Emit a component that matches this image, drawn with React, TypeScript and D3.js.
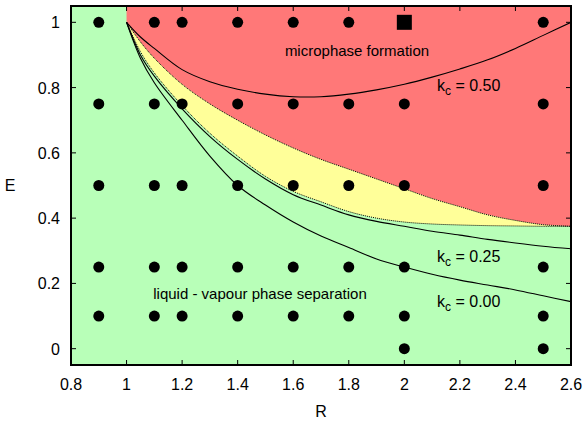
import React, {useMemo} from "react";
import * as d3 from "d3";

// sampled R values for the boundary curves
const rGrid = [1.0, 1.05, 1.1, 1.2, 1.3, 1.4, 1.5, 1.6, 1.7, 1.8, 1.9, 2.0, 2.1, 2.2, 2.3, 2.4, 2.5, 2.6];

// red / yellow boundary (dotted)
const microEdge = [1.0, 0.94, 0.89, 0.81, 0.75, 0.7, 0.655, 0.615, 0.58, 0.55, 0.52, 0.49, 0.46, 0.435, 0.41, 0.393, 0.38, 0.375];
// yellow / green boundary (dotted)
const lvEdge = [1.0, 0.91, 0.845, 0.745, 0.66, 0.59, 0.528, 0.482, 0.45, 0.42, 0.4, 0.388, 0.382, 0.379, 0.377, 0.376, 0.375, 0.375];

// solid curves
const kc050 = [1.0, 0.955, 0.92, 0.855, 0.818, 0.795, 0.78, 0.772, 0.772, 0.78, 0.793, 0.81, 0.832, 0.857, 0.885, 0.92, 0.96, 1.0];
const kc025 = [1.0, 0.9, 0.835, 0.735, 0.65, 0.58, 0.52, 0.472, 0.44, 0.41, 0.39, 0.375, 0.36, 0.348, 0.335, 0.324, 0.314, 0.306];
const kc000 = [1.0, 0.89, 0.815, 0.7, 0.59, 0.5, 0.44, 0.388, 0.345, 0.31, 0.275, 0.25, 0.228, 0.21, 0.195, 0.18, 0.162, 0.144];

// simulation points
const pointR = [0.9, 1.1, 1.2, 1.4, 1.6, 1.8, 2.0, 2.5];
const pointE = [
    [1, 0.75, 0.5, 0.25, 0.1],
    [1, 0.75, 0.5, 0.25, 0.1],
    [1, 0.75, 0.5, 0.25, 0.1],
    [1, 0.75, 0.5, 0.25, 0.1],
    [1, 0.75, 0.5, 0.25, 0.1],
    [1, 0.75, 0.5, 0.25, 0.1],
    [0.75, 0.5, 0.25, 0.1, 0],
    [1, 0.75, 0.5, 0.25, 0.1, 0],
];
const squarePoints = [{r: 2.0, e: 1.0}];

const xTicks = [0.8, 1, 1.2, 1.4, 1.6, 1.8, 2, 2.2, 2.4, 2.6];
const yTicks = [0, 0.2, 0.4, 0.6, 0.8, 1];

const width = 586;
const height = 423;
const left = 71, right = 571, top = 6, bottom = 365;
const font = "Liberation Sans, Arial, sans-serif";

const App = () => {
    const x = useMemo(() => d3.scaleLinear().domain([0.8, 2.6]).range([left, right]), []);
    const y = useMemo(() => d3.scaleLinear().domain([-0.05, 1.05]).range([bottom, top]), []);

    const line = d3.line<[number, number]>()
        .x((d) => x(d[0]))
        .y((d) => y(d[1]))
        .curve(d3.curveCatmullRom);

    const pts = (vals: number[]) => rGrid.map((r, i) => [r, vals[i]] as [number, number]);

    // red region: top strip plus everything above microEdge
    const redArea = "M" + x(1) + "," + y(1.05) + "L" + x(2.6) + "," + y(1.05) + "L" + x(2.6) + "," + y(0.375)
        + "L" + (line(pts(microEdge).slice().reverse()) as string).slice(1) + "Z";
    const yellowArea = (line(pts(microEdge)) as string)
        + "L" + (line(pts(lvEdge).slice().reverse()) as string).slice(1) + "Z";

    const dots: {r: number, e: number}[] = [];
    pointR.forEach((r, i) => pointE[i].forEach((e) => dots.push({r, e})));

    return (
        <svg width={width} height={height} style={{position: "absolute", left: 0, top: 0, background: "#fff"}} fontFamily={font}>
            <defs>
                <clipPath id="plot">
                    <rect x={left} y={top} width={right - left} height={bottom - top} />
                </clipPath>
            </defs>
            <g clipPath="url(#plot)">
                <rect x={left} y={top} width={right - left} height={bottom - top} fill="#b8ffb8" />
                <path d={redArea} fill="#ff7878" />
                <path d={yellowArea} fill="#ffff99" />
                <path d={line(pts(microEdge)) as string} fill="none" stroke="#000" strokeWidth={1} strokeDasharray="1,1" />
                <path d={line(pts(lvEdge)) as string} fill="none" stroke="#000" strokeWidth={1} strokeDasharray="1,1" />
                {[kc050, kc025, kc000].map((c, i) => (
                    <path key={i} d={line(pts(c)) as string} fill="none" stroke="#000" strokeWidth={1.1} />
                ))}
                {dots.map((d, i) => (
                    <circle key={i} cx={x(d.r)} cy={y(d.e)} r={5.5} fill="#000" />
                ))}
                {squarePoints.map((d, i) => (
                    <rect key={i} x={x(d.r) - 7.5} y={y(d.e) - 7.5} width={15} height={15} fill="#000" />
                ))}
            </g>

            {/* ticks on all four sides */}
            {xTicks.map((t) => (
                <g key={"x" + t}>
                    <line x1={x(t)} x2={x(t)} y1={bottom} y2={bottom - 5} stroke="#000" />
                    <line x1={x(t)} x2={x(t)} y1={top} y2={top + 5} stroke="#000" />
                    <text x={x(t)} y={390} textAnchor="middle" fontSize={16}>{t}</text>
                </g>
            ))}
            {yTicks.map((t) => (
                <g key={"y" + t}>
                    <line x1={left} x2={left + 5} y1={y(t)} y2={y(t)} stroke="#000" />
                    <line x1={right} x2={right - 5} y1={y(t)} y2={y(t)} stroke="#000" />
                    <text x={60} y={y(t) + 6} textAnchor="end" fontSize={16}>{t}</text>
                </g>
            ))}
            <rect x={left} y={top} width={right - left} height={bottom - top} fill="none" stroke="#000" strokeWidth={2} />

            <text x={321} y={417} textAnchor="middle" fontSize={16}>R</text>
            <text x={10} y={191} textAnchor="middle" fontSize={16}>E</text>

            <text x={357} y={56} textAnchor="middle" fontSize={15}>microphase formation</text>
            <text x={260} y={299} textAnchor="middle" fontSize={15}>liquid - vapour phase separation</text>
            {[{v: "0.50", yy: 91}, {v: "0.25", yy: 262}, {v: "0.00", yy: 307}].map((k) => (
                <text key={k.v} x={437} y={k.yy} fontSize={16}>
                    k<tspan fontSize={12} dy={4}>c</tspan><tspan dy={-4}> = {k.v}</tspan>
                </text>
            ))}
        </svg>
    );
};

export default App;
